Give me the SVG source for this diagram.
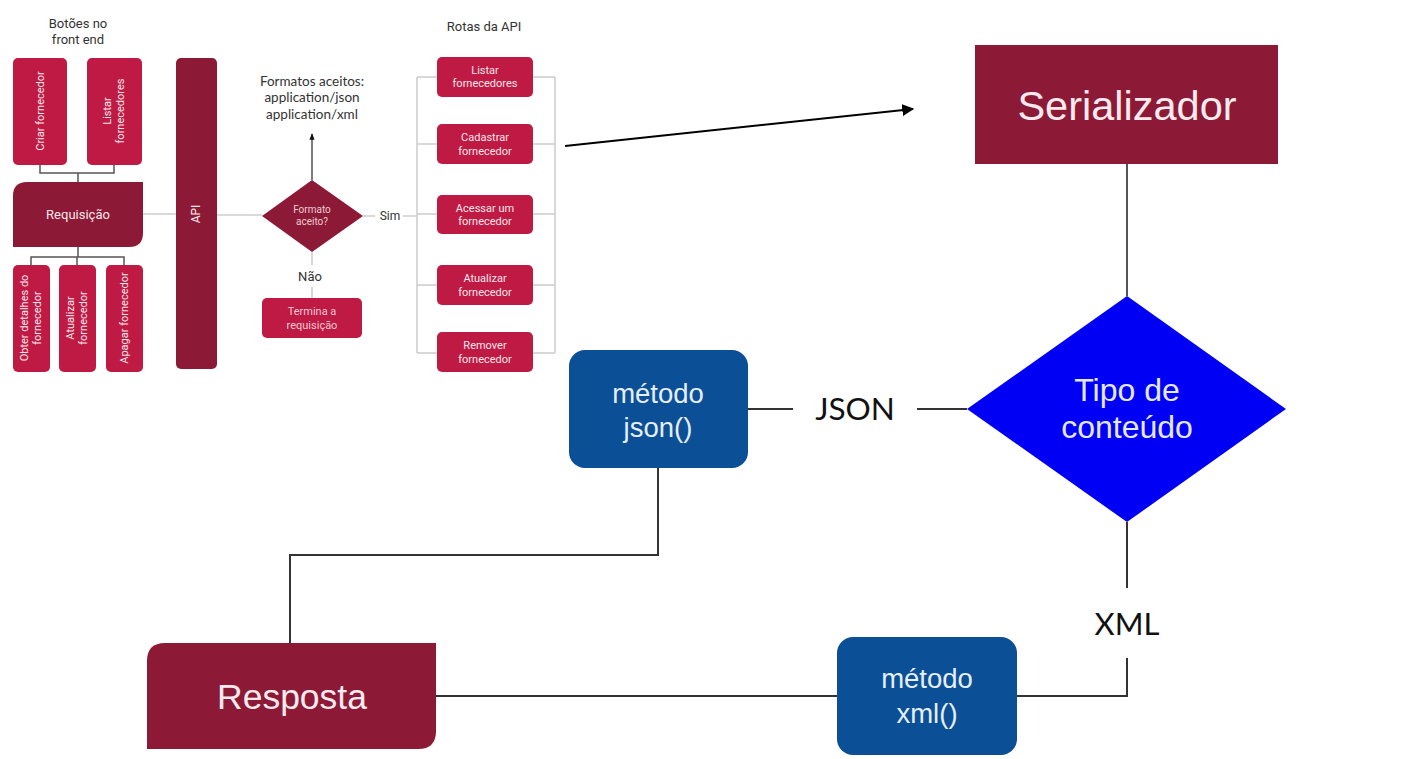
<svg xmlns="http://www.w3.org/2000/svg" width="1424" height="759" viewBox="0 0 1424 759">
<style>
.crim{fill:#BE1A43;}
.mar{fill:#8C1A36;}
.blue{fill:#0B4F97;}
.st{font-family:Roboto,"Liberation Sans",sans-serif;font-size:11px;fill:#FBE6EC;text-anchor:middle;}
.lbl{font-family:Roboto,"Liberation Sans",sans-serif;font-size:13px;fill:#333;text-anchor:middle;}
.big{font-family:"Liberation Sans",Arial,sans-serif;fill:#FBEAEF;text-anchor:middle;}
.bw{font-family:"Liberation Sans",Arial,sans-serif;fill:#E6EEF8;text-anchor:middle;font-size:27.5px;}
.lato{font-family:Lato,"Open Sans",sans-serif;fill:#111;text-anchor:middle;}
.lg{stroke:#CCCCCC;stroke-width:1.5;fill:none;}
.dk{stroke:#333;stroke-width:2;fill:none;}
.gr{stroke:#555;stroke-width:1.5;fill:none;}
</style>
<defs>
<marker id="ah" viewBox="0 0 10 10" refX="9" refY="5" markerWidth="6" markerHeight="6" orient="auto-start-reverse">
<path d="M0,0 L10,5 L0,10 z" fill="#000"/>
</marker>
<marker id="ahs" viewBox="0 0 10 10" refX="9" refY="5" markerWidth="5" markerHeight="5" orient="auto">
<path d="M0,1 L10,5 L0,9 z" fill="#111"/>
</marker>
</defs>
<rect width="1424" height="759" fill="#fff"/>

<g id="connectors">
<path class="gr" d="M40,165 V173 H114 V165 M78,173 V182"/>
<path class="gr" d="M78,247 V257 M31,265 V257 H124 V265 M77,257 V265"/>
<path class="lg" d="M143,214 H176"/>
<path class="lg" d="M217,215 H262"/>
<path class="dk" style="stroke-width:1.3" d="M312,180 V134" marker-end="url(#ahs)"/>
<path class="lg" d="M363,216 H375"/>
<path class="lg" d="M403,216 H417"/>
<path class="lg" d="M312,252 V265 M312,287 V298"/>
<path class="lg" d="M417,77 V353 M555,77 V353 M417,77 H437 M417,144 H437 M417,214 H437 M417,285 H437 M417,353 H437 M533,77 H555 M533,144 H555 M533,214 H555 M533,285 H555 M533,353 H555"/>
<path d="M565,146 L913,109" stroke="#000" stroke-width="2" fill="none" marker-end="url(#ah)"/>
<path class="gr" style="stroke-width:2" d="M1127,164 V296"/>
<path class="dk" d="M748,409 H793 M917,409 H967"/>
<path class="dk" d="M658,468 V555 H290 V643"/>
<path class="dk" d="M1127,522 V588 M1127,658 V696 H1017"/>
<path class="dk" d="M436,696 H837"/>
</g>

<g id="title-botoes"><text class="lbl"><tspan x="78" y="28">Botões no</tspan><tspan x="78" y="44">front end</tspan></text></g>

<g id="criar"><rect class="crim" x="13" y="58" width="54" height="107" rx="5"/>
<text class="st" transform="translate(40,111) rotate(-90)" y="4">Criar fornecedor</text></g>
<g id="listar"><rect class="crim" x="87" y="58" width="55" height="107" rx="5"/>
<text class="st" transform="translate(114,111) rotate(-90)"><tspan x="0" y="-3">Listar</tspan><tspan x="0" y="10">fornecedores</tspan></text></g>

<g id="requisicao"><path class="mar" d="M27,182 H143 V233 Q143,247 129,247 H13 V196 Q13,182 27,182 Z"/>
<text class="st" style="font-size:13px" x="78" y="219">Requisição</text></g>

<g id="obter"><rect class="crim" x="13" y="265" width="37" height="107" rx="5"/>
<text class="st" transform="translate(31,318) rotate(-90)"><tspan x="0" y="-3">Obter detalhes do</tspan><tspan x="0" y="10">fornecedor</tspan></text></g>
<g id="atualizar-btn"><rect class="crim" x="59" y="265" width="37" height="107" rx="5"/>
<text class="st" transform="translate(77,318) rotate(-90)"><tspan x="0" y="-3">Atualizar</tspan><tspan x="0" y="10">fornecedor</tspan></text></g>
<g id="apagar"><rect class="crim" x="106" y="265" width="37" height="107" rx="5"/>
<text class="st" transform="translate(124,318) rotate(-90)" y="4">Apagar fornecedor</text></g>

<g id="api"><rect class="mar" x="176" y="58" width="41" height="311" rx="5"/>
<text class="st" style="font-size:12px" transform="translate(196,214) rotate(-90)" y="4">API</text></g>

<g id="formatos"><text class="lato" style="font-size:13.5px;fill:#333"><tspan x="312" y="86">Formatos aceitos:</tspan><tspan x="312" y="102">application/json</tspan><tspan x="312" y="119">application/xml</tspan></text></g>

<g id="formato-aceito"><polygon class="mar" points="312,180 363,216 312,252 262,216"/>
<text class="st" style="font-size:10px;fill:#F2C9D3"><tspan x="312" y="213">Formato</tspan><tspan x="312" y="225">aceito?</tspan></text></g>
<text class="lbl" style="font-size:12px" x="390" y="220">Sim</text>
<text class="lbl" x="310" y="281">Não</text>

<g id="termina"><rect class="crim" x="262" y="298" width="100" height="40" rx="5"/>
<text class="st" style="fill:#F2C9D3"><tspan x="312" y="315">Termina a</tspan><tspan x="312" y="329">requisição</tspan></text></g>

<text class="lbl" x="484" y="31">Rotas da API</text>
<g id="r-listar"><rect class="crim" x="437" y="57" width="96" height="40" rx="5"/>
<text class="st"><tspan x="485" y="74">Listar</tspan><tspan x="485" y="87">fornecedores</tspan></text></g>
<g id="r-cadastrar"><rect class="crim" x="437" y="124" width="96" height="40" rx="5"/>
<text class="st"><tspan x="485" y="141">Cadastrar</tspan><tspan x="485" y="155">fornecedor</tspan></text></g>
<g id="r-acessar"><rect class="crim" x="437" y="195" width="96" height="39" rx="5"/>
<text class="st"><tspan x="485" y="212">Acessar um</tspan><tspan x="485" y="225">fornecedor</tspan></text></g>
<g id="r-atualizar"><rect class="crim" x="437" y="265" width="96" height="40" rx="5"/>
<text class="st"><tspan x="485" y="282">Atualizar</tspan><tspan x="485" y="296">fornecedor</tspan></text></g>
<g id="r-remover"><rect class="crim" x="437" y="332" width="96" height="40" rx="5"/>
<text class="st"><tspan x="485" y="349">Remover</tspan><tspan x="485" y="363">fornecedor</tspan></text></g>

<g id="serializador"><rect class="mar" x="975" y="45" width="303" height="119"/>
<text class="big" style="font-size:41.5px" x="1127" y="120">Serializador</text></g>

<g id="tipo"><polygon fill="#0000F5" points="1127,296 1286,409 1127,522 967,409"/>
<text class="big" style="font-size:32px;fill:#E4E8FF"><tspan x="1127" y="401">Tipo de</tspan><tspan x="1127" y="438">conteúdo</tspan></text></g>

<text class="lato" style="font-size:31.5px" x="855" y="420">JSON</text>
<text class="lato" style="font-size:31px" x="1127" y="635">XML</text>

<g id="json"><rect class="blue" x="569" y="350" width="179" height="118" rx="16"/>
<text class="bw"><tspan x="658" y="403">método</tspan><tspan x="658" y="437">json()</tspan></text></g>

<g id="xml"><rect class="blue" x="837" y="637" width="180" height="118" rx="16"/>
<text class="bw"><tspan x="927" y="688">método</tspan><tspan x="927" y="723">xml()</tspan></text></g>

<g id="resposta"><path class="mar" d="M165,643 H436 V731 Q436,749 418,749 H147 V661 Q147,643 165,643 Z"/>
<text class="big" style="font-size:35.5px" x="292" y="709">Resposta</text></g>
</svg>
